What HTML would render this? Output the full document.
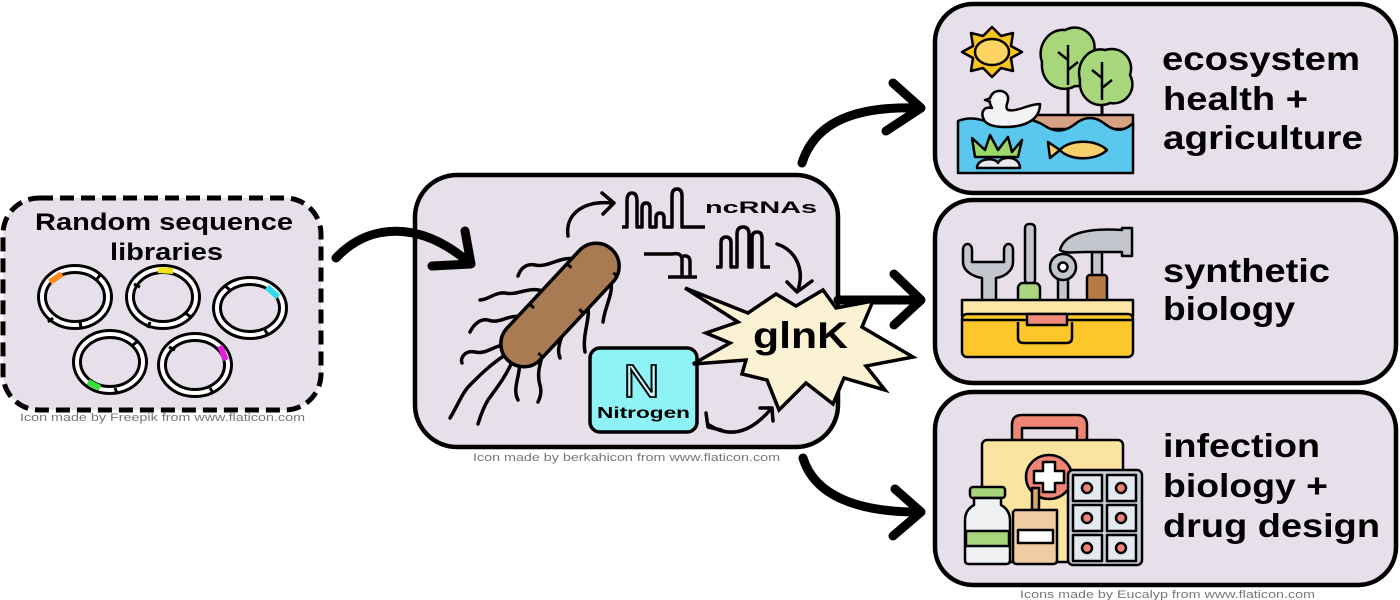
<!DOCTYPE html>
<html><head><meta charset="utf-8">
<style>
html,body{margin:0;padding:0;background:#fff;}
svg{display:block;}
text{font-family:"Liberation Sans",Arial,sans-serif;}
</style></head>
<body>
<svg width="1400" height="600" viewBox="0 0 1400 600" xmlns="http://www.w3.org/2000/svg">
<!-- LEFT BOX -->
<rect x="3" y="198" width="318" height="212" rx="36" fill="#e7e0ea" stroke="#000" stroke-width="5" stroke-dasharray="14 7"/>
<text x="35" y="230" font-size="24" font-weight="bold" textLength="258" lengthAdjust="spacingAndGlyphs">Random sequence</text>
<text x="110" y="260" font-size="24" font-weight="bold" textLength="113" lengthAdjust="spacingAndGlyphs">libraries</text>
<g fill="none">
 <g><ellipse cx="75" cy="297" rx="33" ry="28" stroke="#000" stroke-width="10"/><ellipse cx="75" cy="297" rx="33" ry="28" stroke="#fff" stroke-width="4"/>
  <line x1="50" y1="282" x2="62" y2="274" stroke="#ff8a1a" stroke-width="6"/></g>
 <g><ellipse cx="163" cy="297" rx="33" ry="28" stroke="#000" stroke-width="10"/><ellipse cx="163" cy="297" rx="33" ry="28" stroke="#fff" stroke-width="4"/>
  <line x1="158" y1="270" x2="173" y2="271" stroke="#f2e21c" stroke-width="6"/></g>
 <g><ellipse cx="250" cy="308" rx="33" ry="27" stroke="#000" stroke-width="10"/><ellipse cx="250" cy="308" rx="33" ry="27" stroke="#fff" stroke-width="4"/>
  <line x1="267" y1="287" x2="278" y2="297" stroke="#2fd9ef" stroke-width="6"/></g>
 <g><ellipse cx="110" cy="362" rx="33" ry="28" stroke="#000" stroke-width="10"/><ellipse cx="110" cy="362" rx="33" ry="28" stroke="#fff" stroke-width="4"/>
  <line x1="88" y1="382" x2="100" y2="388" stroke="#38e03a" stroke-width="6"/></g>
 <g><ellipse cx="195" cy="365" rx="33" ry="28" stroke="#000" stroke-width="10"/><ellipse cx="195" cy="365" rx="33" ry="28" stroke="#fff" stroke-width="4"/>
  <line x1="220" y1="346" x2="226" y2="360" stroke="#e81ae0" stroke-width="6"/></g>
 <g stroke="#000" stroke-width="3">
  <line x1="97" y1="279" x2="101" y2="274"/><line x1="53" y1="318" x2="48" y2="322"/><line x1="80" y1="322" x2="81" y2="328"/>
  <line x1="140" y1="287" x2="134" y2="284"/><line x1="185" y1="313" x2="191" y2="317"/><line x1="150" y1="322" x2="148" y2="328"/>
  <line x1="230" y1="290" x2="225" y2="286"/><line x1="265" y1="330" x2="268" y2="335"/>
  <line x1="133" y1="345" x2="138" y2="341"/><line x1="115" y1="388" x2="117" y2="393"/>
  <line x1="175" y1="350" x2="169" y2="347"/><line x1="210" y1="388" x2="213" y2="393"/>
 </g>
</g>
<text x="20" y="421" font-size="11" fill="#777" textLength="285" lengthAdjust="spacingAndGlyphs">Icon made by Freepik from www.flaticon.com</text>

<!-- CENTER BOX -->
<rect x="415" y="175" width="423" height="272" rx="42" fill="#e7e0ea" stroke="#000" stroke-width="4.5"/>
<text x="473" y="461" font-size="11" fill="#777" textLength="307" lengthAdjust="spacingAndGlyphs">Icon made by berkahicon from www.flaticon.com</text>

<!-- RIGHT BOXES -->
<rect x="935" y="4" width="461" height="189" rx="38" fill="#e7e0ea" stroke="#000" stroke-width="4.5"/>
<rect x="935" y="200" width="461" height="183" rx="38" fill="#e7e0ea" stroke="#000" stroke-width="4.5"/>
<rect x="935" y="392" width="461" height="193" rx="38" fill="#e7e0ea" stroke="#000" stroke-width="4.5"/>
<text x="1020" y="598" font-size="11" fill="#777" textLength="295" lengthAdjust="spacingAndGlyphs">Icons made by Eucalyp from www.flaticon.com</text>

<g font-size="33" font-weight="bold">
<text x="1162" y="70" textLength="198" lengthAdjust="spacingAndGlyphs">ecosystem</text>
<text x="1163" y="110" textLength="145" lengthAdjust="spacingAndGlyphs">health +</text>
<text x="1163" y="149" textLength="200" lengthAdjust="spacingAndGlyphs">agriculture</text>
<text x="1163" y="282" textLength="167" lengthAdjust="spacingAndGlyphs">synthetic</text>
<text x="1163" y="320" textLength="132" lengthAdjust="spacingAndGlyphs">biology</text>
<text x="1163" y="457" textLength="157" lengthAdjust="spacingAndGlyphs">infection</text>
<text x="1163" y="497" textLength="165" lengthAdjust="spacingAndGlyphs">biology +</text>
<text x="1163" y="537" textLength="217" lengthAdjust="spacingAndGlyphs">drug design</text>
</g>

<!-- BIG ARROWS -->
<g fill="none" stroke="#000" stroke-width="9" stroke-linecap="round" stroke-linejoin="round">
 <path d="M336 258 C370 222 420 222 466 260"/>
 <path d="M465 231 L471 264 L432 266"/>
 <path d="M802 163 C815 122 855 106 918 108"/>
 <path d="M893 83 L921 108 L886 131"/>
 <path d="M838 300 L920 300"/>
 <path d="M894 274 L921 300 L894 325"/>
 <path d="M803 458 C815 497 860 512 918 512"/>
 <path d="M895 489 L921 512 L893 536"/>
</g>

<!-- ecosystem icon -->
<g stroke="#000" stroke-width="2.5" stroke-linejoin="round">
 <polygon fill="#f7c51e" points="1022,52 1011,58 1013,71 1001,68 992,77 983,68 971,71 973,58 962,52 973,46 971,33 983,36 992,27 1001,36 1013,33 1011,46"/>
 <ellipse cx="992" cy="52" rx="17" ry="13" fill="#fbd462"/>
 <line x1="1068" y1="70" x2="1068" y2="118" stroke-width="3"/>
 <path d="M1042 62 C1036 45 1050 28 1065 30 C1080 22 1098 35 1094 52 C1102 65 1092 88 1075 86 C1062 94 1040 85 1042 62 Z" fill="#a8d67a"/>
 <path d="M1068 85 V45 M1068 60 L1058 52 M1068 70 L1078 62" fill="none" stroke-width="2.5"/>
 <line x1="1102" y1="90" x2="1102" y2="118" stroke-width="3"/>
 <path d="M1080 80 C1075 62 1090 46 1105 50 C1122 45 1135 60 1130 75 C1138 90 1125 106 1110 103 C1095 110 1078 98 1080 80 Z" fill="#a8d67a"/>
 <path d="M1102 100 V62 M1102 78 L1092 70 M1102 88 L1112 80" fill="none" stroke-width="2.5"/>
 <rect x="1030" y="115" width="103" height="14" fill="#d9a183"/>
 <path d="M958 121 Q970 116 985 121 T1015 121 T1045 126 T1075 124 T1105 124 T1133 123 V173 H958 Z" fill="#5ac8ee"/>
 <path d="M984 120 C980 112 984 106 992 108 C990 104 988 100 991 96 C994 89 1006 89 1008 97 C1009 103 1004 106 1008 110 C1018 112 1028 104 1040 104 C1040 120 1025 127 1005 127 C995 127 987 125 984 120 Z" fill="#f3f3f5"/>
 <path d="M991 98 L985 100 L991 102" fill="#f3f3f5"/>
 <path d="M975 157 L972 138 L985 150 L990 135 L998 150 L1008 137 L1012 152 L1022 140 L1018 157 Z" fill="#9ad86a"/>
 <path d="M977 168 C977 158 995 157 998 163 C1002 155 1020 156 1020 168 Z" fill="#e8e8ec"/>
 <path d="M1060 150 C1068 140 1095 138 1107 150 C1095 162 1068 160 1060 150 Z M1060 150 L1048 142 L1050 158 Z" fill="#f6d06a"/>
</g>

<!-- toolbox icon -->
<g stroke="#000" stroke-width="2.5" stroke-linejoin="round">
 <path d="M963 250 C963 242 972 242 972 250 V262 H1004 V250 C1004 242 1013 242 1013 250 V262 C1013 272 1003 277 996 278 V312 H982 V278 C975 277 963 272 963 262 Z" fill="#c3c7cd"/>
 <rect x="1025" y="224" width="10" height="60" rx="4" fill="#c3c7cd"/>
 <rect x="1018" y="283" width="22" height="30" rx="5" fill="#a9d67c"/>
 <rect x="1058" y="276" width="10" height="38" fill="#c3c7cd"/>
 <circle cx="1063" cy="267" r="13" fill="#c3c7cd"/>
 <circle cx="1063" cy="267" r="4.5" fill="#fff"/>
 <rect x="1092" y="252" width="10" height="24" fill="#c3c7cd"/>
 <path d="M1060 250 C1065 232 1090 228 1122 230 V228 H1132 V256 H1122 V252 H1085 C1075 252 1066 254 1060 250 Z" fill="#c3c7cd"/>
 <rect x="1087" y="275" width="20" height="38" rx="3" fill="#b67a45"/>
 <rect x="962" y="300" width="171" height="16" fill="#fde6a6"/>
 <rect x="962" y="314" width="171" height="43" rx="5" fill="#fbc72a"/>
 <line x1="962" y1="320" x2="1133" y2="320"/>
 <path d="M1018 322 V338 Q1018 343 1024 343 H1066 Q1072 343 1072 338 V322" fill="#fbc72a"/>
 <rect x="1027" y="314" width="40" height="11" fill="#f08a7a"/>
</g>

<!-- medical icon -->
<g stroke="#000" stroke-width="2.5" stroke-linejoin="round">
 <path d="M1012 442 V425 Q1012 415 1022 415 H1077 Q1087 415 1087 425 V442 H1077 V428 H1022 V442 Z" fill="#f08576"/>
 <rect x="982" y="440" width="141" height="122" rx="5" fill="#fbe3a0"/>
 <ellipse cx="1049" cy="477" rx="23" ry="22" fill="#f08576"/>
 <path d="M1043 462 H1055 V471 H1064 V483 H1055 V492 H1043 V483 H1034 V471 H1043 Z" fill="#fff"/>
 <rect x="1068" y="470" width="74" height="95" rx="5" fill="#c9cdd8"/>
 <g fill="#e4e8ef">
  <rect x="1073" y="475" width="29" height="26"/><rect x="1107" y="475" width="29" height="26"/>
  <rect x="1073" y="505" width="29" height="26"/><rect x="1107" y="505" width="29" height="26"/>
  <rect x="1073" y="535" width="29" height="26"/><rect x="1107" y="535" width="29" height="26"/>
 </g>
 <g fill="#f08576">
  <circle cx="1087" cy="488" r="5"/><circle cx="1121" cy="488" r="5"/>
  <circle cx="1087" cy="518" r="5"/><circle cx="1121" cy="518" r="5"/>
  <circle cx="1087" cy="548" r="5"/><circle cx="1121" cy="548" r="5"/>
 </g>
 <rect x="970" y="487" width="35" height="11" rx="3" fill="#a9d67c"/>
 <path d="M974 498 H1001 V505 Q1010 510 1010 520 V560 Q1010 564 1006 564 H969 Q965 564 965 560 V520 Q965 510 974 505 Z" fill="#eef0f2"/>
 <rect x="966" y="531" width="43" height="15" fill="#a9d67c"/>
 <rect x="1032" y="488" width="7" height="22" fill="#d9a470"/>
 <path d="M1015 510 H1057 V560 Q1057 564 1053 564 H1017 Q1013 564 1013 560 V512 Z" fill="#f1cba2"/>
 <rect x="1018" y="530" width="35" height="13" fill="#fff"/>
</g>

<!-- bacterium flagella -->
<g fill="none" stroke="#000" stroke-width="3.5" stroke-linecap="round">
 <path d="M575 259 C560 256 548 268 535 265 C525 263 520 270 518 276"/>
 <path d="M545 292 C530 285 518 296 505 293 C495 292 488 300 480 300"/>
 <path d="M525 318 C510 312 500 325 488 320 C478 318 472 328 470 332"/>
 <path d="M510 345 C495 343 488 355 475 352 C465 350 460 358 462 363"/>
 <path d="M505 355 C490 365 480 375 470 385 C462 393 458 405 450 418"/>
 <path d="M512 362 C505 378 495 390 488 400 C482 410 480 418 478 424"/>
 <path d="M520 360 C520 378 512 388 518 400"/>
 <path d="M545 340 C545 355 535 368 540 385 C542 392 540 398 538 402"/>
 <path d="M565 322 C565 335 555 345 560 358"/>
 <path d="M588 308 C590 320 582 335 585 352"/>
 <path d="M610 278 C615 292 605 305 603 322"/>
</g>
<g transform="translate(560,305) rotate(-47)">
 <rect x="-76" y="-23" width="152" height="46" rx="23" fill="#a87b52" stroke="#000" stroke-width="3.5"/>
 <g stroke="#000" stroke-width="3" fill="none">
  <path d="M-20 -23 v6"/><path d="M35 -23 v6"/><path d="M-50 23 v-6"/><path d="M10 23 v-6"/><path d="M60 23 v-6"/>
 </g>
</g>

<!-- small arrows in center -->
<g fill="none" stroke="#000" stroke-width="3.5" stroke-linecap="round" stroke-linejoin="round">
 <path d="M568 236 C565 215 582 200 613 203"/>
 <path d="M602 193 L614 203 L603 214"/>
 <path d="M777 244 C795 250 805 268 798 290"/>
 <path d="M787 282 L797 292 L812 281"/>
 <path d="M709 425 Q740 445 771 409"/>
 <path d="M706 413 L708 427 L721 430"/>
 <path d="M760 408 L772 408 L773 421"/>
</g>

<!-- RNA hairpins -->
<g fill="none" stroke="#000" stroke-width="3.5" stroke-linejoin="round">
 <path d="M622 227 H627 V201 Q627 193 632 193 Q637 193 637 201 V227 H642 V208 Q642 203 646 203 Q650 203 650 208 V227 H656 V218 Q656 213 660 213 Q664 213 664 218 V227 H672 V196 Q672 189 677 189 Q682 189 682 196 V227 H705"/>
 <path d="M644 254 H672 Q682 252 682 260 V277 M668 277 H697 M690 277 V262 Q690 255 683 256"/>
 <path d="M716 267 H721 V243 Q721 237 726 237 Q731 237 731 243 V267 H737 V234 Q737 227 743 227 Q749 227 749 234 V267 H752 V238 Q752 232 757 232 Q762 232 762 238 V267 H770"/>
</g>
<text x="705" y="213" font-size="17" font-weight="bold" textLength="112" lengthAdjust="spacingAndGlyphs">ncRNAs</text>

<!-- Nitrogen -->
<rect x="590" y="348" width="107" height="84" rx="10" fill="#8ef3f7" stroke="#000" stroke-width="3.5"/>
<text x="623" y="397" font-size="46" fill="#c8fbfc" stroke="#000" stroke-width="1.8" textLength="37" lengthAdjust="spacingAndGlyphs">N</text>
<text x="597" y="418" font-size="16" font-weight="bold" textLength="93" lengthAdjust="spacingAndGlyphs">Nitrogen</text>

<!-- burst -->
<polygon fill="#fbf2d4" stroke="#000" stroke-width="3.5" stroke-linejoin="miter" points="685,288 748,313 776,294 796,306 823,290 836,308 873,301 862,327 913,357 866,366 885,390 844,378 833,404 806,383 779,410 767,380 742,374 746,360 693,364 730,343 706,333 738,322"/>
<text x="753" y="348" font-size="37" font-weight="bold" textLength="95" lengthAdjust="spacingAndGlyphs">glnK</text>
</svg>
</body></html>
